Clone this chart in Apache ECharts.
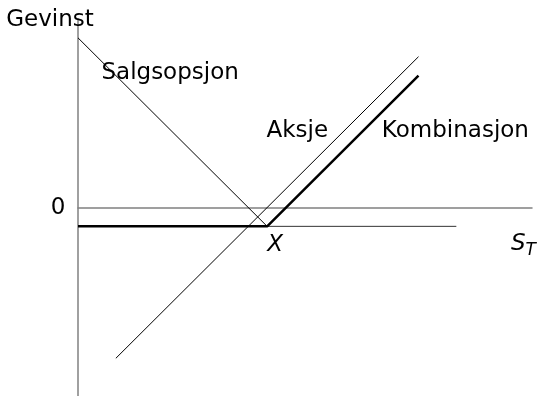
<!DOCTYPE html>
<html>
<head>
<meta charset="utf-8">
<script src="https://cdn.jsdelivr.net/npm/echarts@6/dist/echarts.min.js"></script>
<style>
    html, body { margin: 0; padding: 0; background: #fff; }
    #main { width: 545px; height: 396px; }
</style>
</head>
<body>
<div id="main"></div>
<script>
// gevinst-diagram: aksje + salgsopsjon (X = 10, premie = 1)
var putX = [0, 10];
var putY = [9, -1];
var stockX = [2, 18];
var stockY = [-8, 8];
var premiumX = [0, 20];
var premiumY = [-1, -1];
var comboX = [0, 10, 18];
var comboY = [-1, -1, 7];

// tekster og hvor de står (i dataenheter)
var labelText = ['{n|Gevinst}', '{n|Salgsopsjon}', '{n|Aksje}', '{n|Kombinasjon}', '{n|0}', '{it|X}', '{it|S}{sub|T}'];
var labelX = [-1.48, 4.87, 11.59, 19.95, -1.06, 10.42, 23.55];
var labelY = [9.95, 7.14, 4.07, 4.07, -0.05, -2.01, -1.96];

function pairs(xs, ys) {
    var out = [];
    for (var i = 0; i < xs.length; i++) {
        out.push([xs[i], ys[i]]);
    }
    return out;
}

var labelData = [];
for (var i = 0; i < labelText.length; i++) {
    labelData.push({value: [labelX[i], labelY[i]], name: labelText[i]});
}

var myChart = echarts.init(document.getElementById('main'));
var option = {
    animation: false,
    textStyle: {color: '#000', fontFamily: 'DejaVu Sans'},
    grid: {left: 78, right: 13, top: 19, bottom: 0},
    xAxis: {
        type: 'value', min: 0, max: 24,
        axisLine: {onZero: true, lineStyle: {color: '#808080', width: 1.5}},
        axisTick: {show: false}, axisLabel: {show: false}, splitLine: {show: false}
    },
    yAxis: {
        type: 'value', min: -10, max: 10,
        axisLine: {show: true, onZero: false, lineStyle: {color: '#808080', width: 1.5}},
        axisTick: {show: false}, axisLabel: {show: false}, splitLine: {show: false}
    },
    series: [
        {type: 'line', name: 'Salgsopsjon', data: pairs(putX, putY), showSymbol: false, silent: true,
            lineStyle: {color: '#000', width: 1}},
        {type: 'line', name: 'Aksje', data: pairs(stockX, stockY), showSymbol: false, silent: true,
            lineStyle: {color: '#000', width: 1}},
        {type: 'line', name: 'Premie', data: pairs(premiumX, premiumY), showSymbol: false, silent: true,
            lineStyle: {color: '#333', width: 1}},
        {type: 'line', name: 'Kombinasjon', data: pairs(comboX, comboY), showSymbol: false, silent: true,
            lineStyle: {color: '#000', width: 2.5}},
        {type: 'scatter', name: 'tekst', data: labelData, symbolSize: 0, clip: false, silent: true,
            itemStyle: {color: '#000', opacity: 1},
            label: {
                show: true, position: [0, 0], align: 'center', verticalAlign: 'middle',
                color: '#000', opacity: 1, textBorderWidth: 0,
                fontFamily: 'DejaVu Sans', fontSize: 23,
                formatter: function (p) { return p.name; },
                rich: {
                    n: {fontFamily: 'DejaVu Sans', fontSize: 23, color: '#000'},
                    it: {fontFamily: 'DejaVu Sans', fontStyle: 'italic', fontSize: 23, color: '#000'},
                    sub: {fontFamily: 'DejaVu Sans', fontStyle: 'italic', fontSize: 17, color: '#000',
                        padding: [12, 0, 0, 0]}
                }
            }}
    ]
};
myChart.setOption(option);
</script>
</body>
</html>
